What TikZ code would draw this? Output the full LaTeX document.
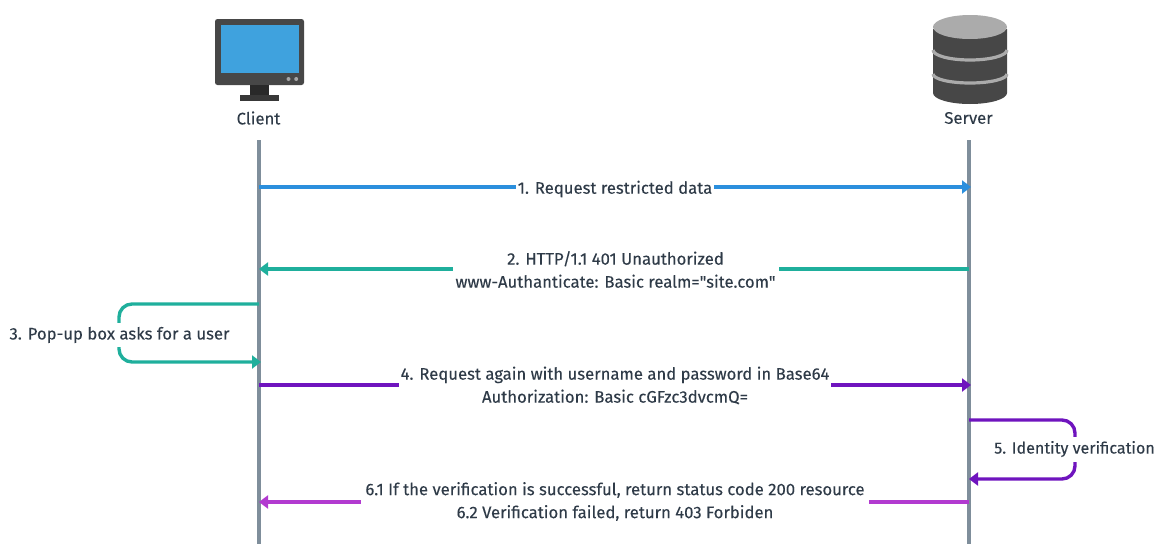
\documentclass[tikz,border=0pt]{standalone}
\usepackage{fontspec}
\setmainfont[Ligatures=TeXOff,FakeBold=0.12]{Fira Sans}
\usetikzlibrary{arrows.meta}
\definecolor{txt}{HTML}{2F3B48}
\definecolor{life}{HTML}{7F8E9B}
\definecolor{cblue}{HTML}{2B8FDD}
\definecolor{cteal}{HTML}{1FAF9C}
\definecolor{cpurple}{HTML}{6F14BE}
\definecolor{cpink}{HTML}{B23AD0}
\definecolor{screen}{HTML}{3FA2DE}
\tikzset{
  msg/.style={line width=3.4pt,-{Triangle[length=9pt,width=13pt]}},
  lifeline/.style={line width=3.6pt,life},
  lbl/.style={font=\fontsize{16.7}{23}\selectfont,text=txt,fill=white,inner xsep=1.5pt,inner ysep=0pt,align=center},
  captext/.style={font=\fontsize{16.7}{20}\selectfont,text=txt,inner sep=0pt},
  loopmsg/.style={msg,rounded corners=13pt},
}
\begin{document}
\begin{tikzpicture}[x=1pt,y=-1pt]
\useasboundingbox (0,0) rectangle (1156,544);
% client icon
\fill[rounded corners=2.5pt,fill=black!72] (215,19) rectangle (304,85);
\fill[fill=black!84] (250,85) rectangle (269,95);
\fill[fill=black!78] (240,94.5) rectangle (279,100.5);
\fill[fill=screen] (221,25) rectangle (298.5,73);
\fill[black!35] (288.5,79) circle (2);
\fill[black!35] (296.2,79) circle (2);
% server icon
\fill[black!72] (933,29) -- (933,93) arc[x radius=37,y radius=11,start angle=180,end angle=0] -- (1007,29) -- cycle;
\fill[black!33] (970,27) ellipse[x radius=37,y radius=12];
\draw[black!33,line width=3.2pt] (933,50) arc[x radius=37,y radius=10,start angle=180,end angle=0];
\draw[black!33,line width=3.2pt] (933,74) arc[x radius=37,y radius=9,start angle=180,end angle=0];
\node[captext] (client) at (258.5,118) {Client};
\node[captext] (server) at (968.5,118) {Server};
% lifelines
\coordinate (ctop) at (259,140); \coordinate (cbot) at (259,544);
\coordinate (stop) at (969,140); \coordinate (sbot) at (969,544);
\draw[lifeline] (ctop) -- (cbot);
\draw[lifeline] (stop) -- (sbot);
% message anchors
\coordinate (c1) at (259,187); \coordinate (s1) at (971,187);
\coordinate (s2) at (969,269); \coordinate (c2) at (259,269);
\coordinate (c3a) at (259,304); \coordinate (c3b) at (261,362);
\coordinate (c3l) at (119,304); \coordinate (c3m) at (119,362);
\coordinate (c4) at (259,385); \coordinate (s4) at (971,385);
\coordinate (s5a) at (969,420); \coordinate (s5b) at (969,479);
\coordinate (s5r) at (1075,420); \coordinate (s5m) at (1075,479);
\coordinate (s6) at (969,502); \coordinate (c6) at (259,502);
% messages
\draw[msg,cblue] (c1) -- (s1);
\draw[msg,cteal] (s2) -- (c2);
\draw[loopmsg,cteal] (c3a) -- (c3l) -- (c3m) -- (c3b);
\draw[msg,cpurple] (c4) -- (s4);
\draw[loopmsg,cpurple] (s5a) -- (s5r) -- (s5m) -- (s5b);
\draw[msg,cpink] (s6) -- (c6);
% labels
\node[lbl] (m1) at (615,189) {1. Request restricted data};
\node[lbl,inner xsep=3pt] (m2) at (615.5,269.5) {2. HTTP/1.1 401 Unauthorized\\www-Authanticate: Basic realm="site.com"};
\node[lbl,inner xsep=0pt,minimum height=24pt] (m3) at (119.5,335) {3. Pop-up box asks for a user};
\node[lbl,inner xsep=2pt] (m4) at (615,385.5) {4. Request again with username and password in Base64\\Authorization: Basic cGFzc3dvcmQ=};
\node[lbl,inner xsep=0pt,minimum height=25pt,font=\fontsize{16.1}{23}\selectfont] (m5) at (1074.5,449) {5. Identity verification};
\node[lbl,inner xsep=4pt] (m6) at (615,501.5) {6.1 If the verification is successful, return status code 200 resource\\6.2 Verification failed, return 403 Forbiden};
\end{tikzpicture}
\end{document}
